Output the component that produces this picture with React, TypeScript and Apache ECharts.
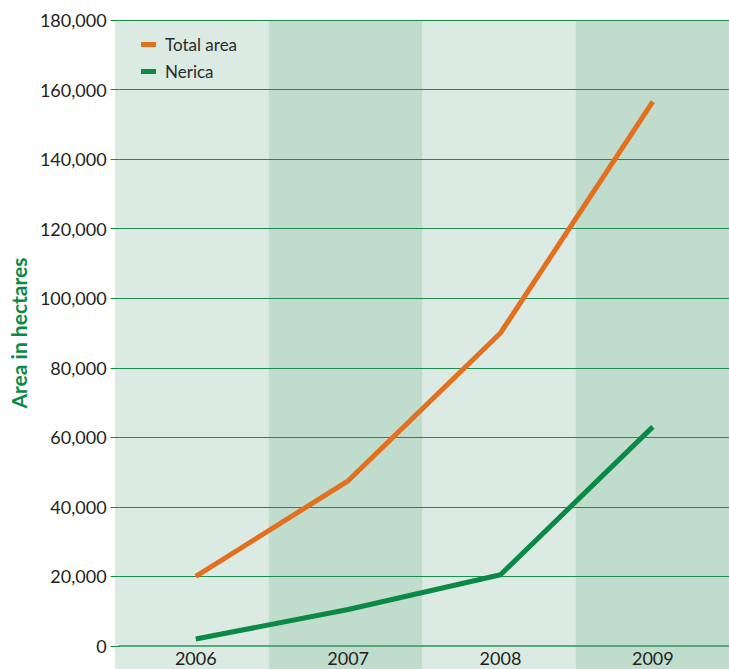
import React, { useEffect, useRef } from "react";
import * as echarts from "echarts";

const years = ["2006", "2007", "2008", "2009"];
const totalArea = [20000, 47500, 90000, 156500];
const nerica = [2000, 10500, 20500, 63000];
const seriesNames = ["Total area", "Nerica"];
const yAxisTitle = "Area in hectares";

const FONT = "Lato, 'Open Sans', sans-serif";
const GREEN = "#0a8a45";
const ORANGE = "#e2701f";

export default function App() {
  const ref = useRef<HTMLDivElement>(null);
  useEffect(() => {
    if (!ref.current) return;
    const chart = echarts.init(ref.current, null, { renderer: "svg" });
    chart.setOption({
      animation: false,
      backgroundColor: "#ffffff",
      grid: [
        { left: 115, right: 0, top: 20, bottom: 0 },
        { left: 115, right: 0, top: 20, bottom: 23 },
      ],
      legend: {
        data: seriesNames,
        orient: "vertical",
        left: 136,
        top: 31,
        icon: "rect",
        itemWidth: 15,
        itemHeight: 5,
        itemGap: 10,
        textStyle: { fontFamily: FONT, fontSize: 17, color: "#2b2b2b", padding: [0, 0, 0, 4] },
      },
      xAxis: [
        {
          gridIndex: 0,
          type: "category",
          data: years,
          z: -1,
          axisLine: { show: false },
          axisTick: { show: false },
          axisLabel: { show: false },
          splitArea: { show: true, areaStyle: { color: ["#dbeae2", "#c0dccc"] } },
        },
        {
          gridIndex: 1,
          type: "category",
          data: years,
          axisLine: { show: true, lineStyle: { color: "#58a97e", width: 2 } },
          axisTick: { show: false },
          axisLabel: {
            margin: 3,
            fontFamily: FONT,
            fontSize: 18,
            lineHeight: 18,
            color: "#231f20",
          },
        },
      ],
      yAxis: [
        { gridIndex: 0, type: "value", show: false, min: 0, max: 1 },
        {
          gridIndex: 1,
          type: "value",
          min: 0,
          max: 180000,
          interval: 20000,
          name: yAxisTitle,
          nameLocation: "middle",
          nameGap: 90,
          nameTextStyle: { fontFamily: FONT, fontSize: 21, fontWeight: "bold", color: GREEN },
          axisLine: { show: false },
          axisTick: { show: true, length: 9, lineStyle: { color: GREEN, width: 1 } },
          axisLabel: {
            margin: 13,
            fontFamily: FONT,
            fontSize: 18,
            color: "#231f20",
            formatter: (v: number) => v.toLocaleString("en-US"),
          },
          splitLine: { show: true, lineStyle: { color: "#1f8c4f", width: 1 } },
        },
      ],
      series: [
        {
          name: seriesNames[0],
          type: "line",
          xAxisIndex: 1,
          yAxisIndex: 1,
          data: totalArea,
          symbol: "none",
          lineStyle: { color: ORANGE, width: 5 },
          itemStyle: { color: ORANGE },
        },
        {
          name: seriesNames[1],
          type: "line",
          xAxisIndex: 1,
          yAxisIndex: 1,
          data: nerica,
          symbol: "none",
          lineStyle: { color: GREEN, width: 5 },
          itemStyle: { color: GREEN },
        },
      ],
    });
    return () => chart.dispose();
  }, []);
  return <div ref={ref} style={{ width: 729, height: 669, position: "absolute", left: 0, top: 0 }} />;
}
